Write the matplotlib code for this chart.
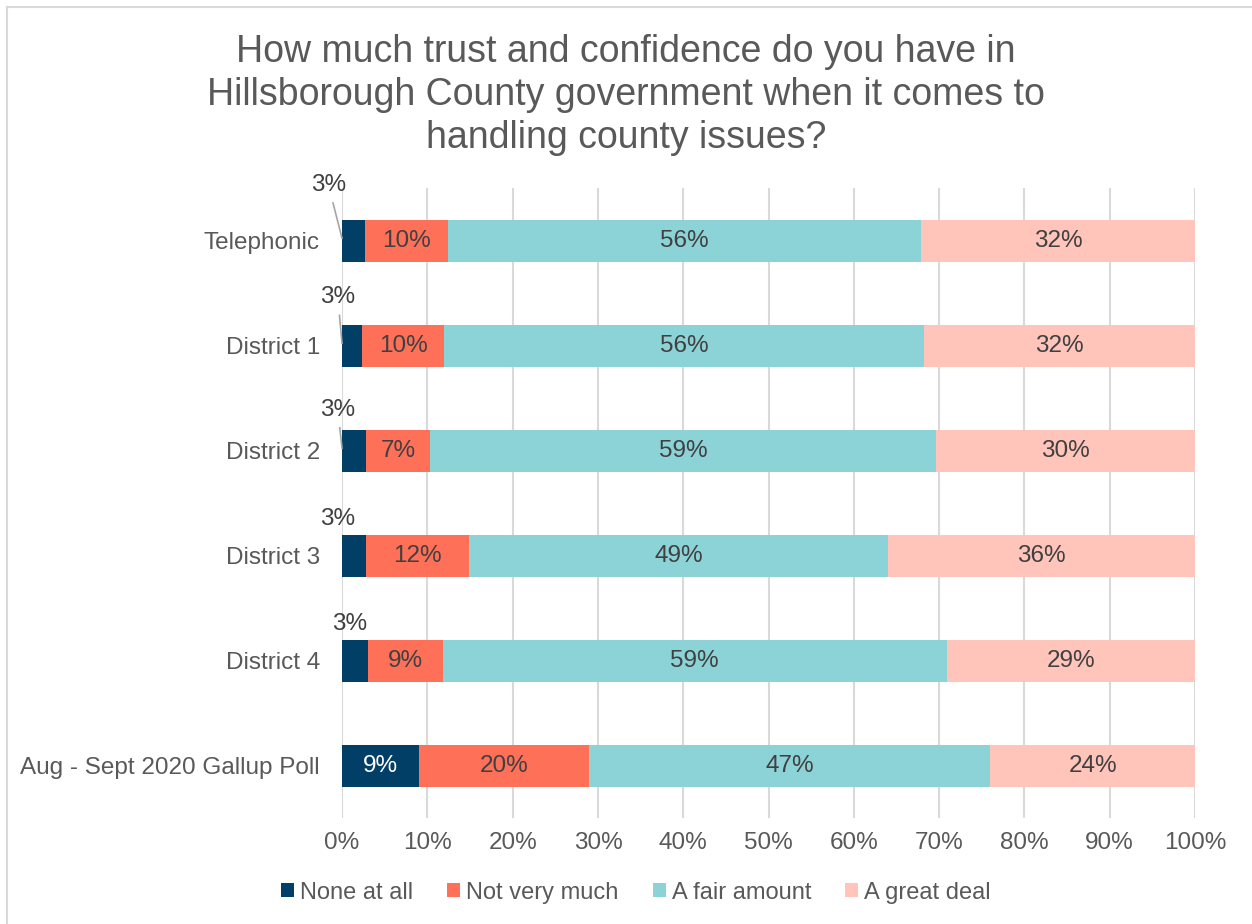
import numpy as np
import matplotlib.pyplot as plt
from matplotlib.patches import Patch

plt.rcParams['font.family'] = ['Liberation Sans', 'DejaVu Sans']

categories = ['Telephonic', 'District 1', 'District 2', 'District 3', 'District 4',
              'Aug - Sept 2020 Gallup Poll']
series = ['None at all', 'Not very much', 'A fair amount', 'A great deal']
none_at_all = [2.7, 2.3, 2.8, 2.8, 3.0, 9.0]
not_very_much = [9.7, 9.7, 7.5, 12.1, 8.8, 20.0]
fair_amount = [55.5, 56.2, 59.3, 49.1, 59.1, 47.0]
great_deal = [32.1, 31.8, 30.4, 36.0, 29.1, 24.0]
labels = [
    ['3%', '10%', '56%', '32%'],
    ['3%', '10%', '56%', '32%'],
    ['3%', '7%', '59%', '30%'],
    ['3%', '12%', '49%', '36%'],
    ['3%', '9%', '59%', '29%'],
    ['9%', '20%', '47%', '24%'],
]

colors = ['#023F67', '#FF7059', '#8CD3D7', '#FFC4BA']
text_col = '#595959'

fig = plt.figure(figsize=(12.52, 9.24), dpi=100)
ax = fig.add_axes([0.2732, 0.1147, 0.6813, 0.6818])

# chart frame (left and top edges visible)
fig.add_artist(plt.Line2D([0.0056, 0.0056], [0, 0.9925], color='#D9D9D9', lw=1.5))
fig.add_artist(plt.Line2D([0.0056, 1], [0.9925, 0.9925], color='#D9D9D9', lw=1.5))

y = np.arange(len(categories))
data = [none_at_all, not_very_much, fair_amount, great_deal]
left = np.zeros(len(categories))
for k, vals in enumerate(data):
    vals = np.array(vals)
    ax.barh(y, vals, left=left, height=0.4, color=colors[k], label=series[k], zorder=3)
    for i in range(len(categories)):
        if k == 0 and i < 5:
            continue
        c = 'white' if k == 0 else '#404040'
        ax.text(left[i] + vals[i] / 2, y[i], labels[i][k], ha='center', va='center',
                fontsize=17.5, color=c, zorder=4)
    left += vals

# small "None at all" labels above the bars
offsets = [(-1.6, -0.53, True), (-0.5, -0.46, True), (-0.5, -0.39, True),
           (-0.5, -0.35, False), (0.9, -0.35, False)]
for i, (dx, dy, line) in enumerate(offsets):
    if line:
        ax.annotate(labels[i][0], xy=(0.0, y[i] - 0.02), xytext=(dx, y[i] + dy),
                    ha='center', va='center', fontsize=17.5, color='#404040',
                    arrowprops=dict(arrowstyle='-', color='#A6A6A6', lw=1.2,
                                    shrinkA=3, shrinkB=0), zorder=5)
    else:
        ax.text(dx, y[i] + dy, labels[i][0], ha='center', va='center',
                fontsize=17.5, color='#404040')

ax.set_xlim(0, 100)
ax.set_ylim(len(categories) - 0.5, -0.5)
ax.set_xticks(np.arange(0, 101, 10))
ax.set_xticklabels([f'{v}%' for v in range(0, 101, 10)])
ax.set_yticks(y)
ax.set_yticklabels(categories)
ax.tick_params(axis='both', length=0, labelsize=17.5, colors=text_col)
ax.tick_params(axis='x', pad=10)
ax.tick_params(axis='y', pad=16)
ax.xaxis.grid(True, color='#D9D9D9', lw=1.5, zorder=0)
for s in ax.spines.values():
    s.set_visible(False)

fig.suptitle('How much trust and confidence do you have in\nHillsborough County government when it comes to\nhandling county issues?',
             y=0.963, fontsize=27, color=text_col, linespacing=1.24)

handles = [Patch(facecolor=colors[k], label=series[k]) for k in range(4)]
fig.legend(handles=handles, loc='center', bbox_to_anchor=(0.508, 0.034), ncol=4,
           frameon=False, fontsize=17, labelcolor=text_col, handlelength=0.55,
           handleheight=0.55, handletextpad=0.25, columnspacing=1.45)

fig.savefig('out.png', dpi=100)
